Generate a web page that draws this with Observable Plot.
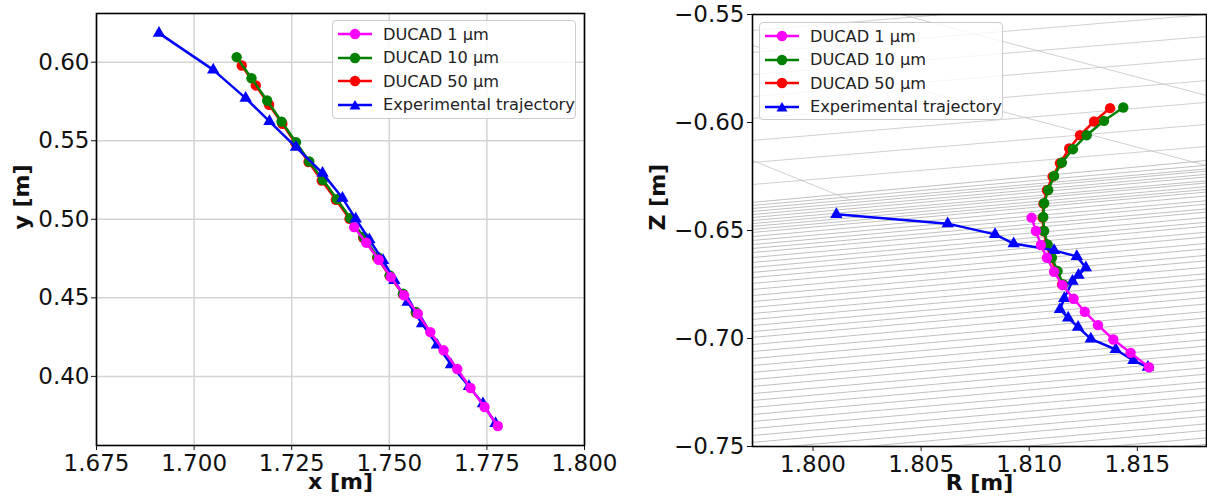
<!DOCTYPE html>
<html><head><meta charset="utf-8">
<script src="https://cdn.jsdelivr.net/npm/d3@7"></script>
<script src="https://cdn.jsdelivr.net/npm/@observablehq/plot@0.6"></script>
<style>
body{margin:0;background:#fff;font-family:"DejaVu Sans",sans-serif;}
#wrap{position:relative;width:1207px;height:500px;overflow:hidden;background:#fff}
.panel{position:absolute;top:0}
.legend{position:absolute;border:1px solid #cccccc;border-radius:4px;background:rgba(255,255,255,0.8);box-sizing:border-box;font-size:16.2px;color:#222}
.row{position:absolute;left:0;height:22px;display:flex;align-items:center;white-space:nowrap}
.row svg{margin-right:11px}
</style></head>
<body><div id="wrap"></div>
<script>
// ---------- legend / series meta ----------
const seriesNames = ["DUCAD 1 µm", "DUCAD 10 µm", "DUCAD 50 µm", "Experimental trajectory"];
const seriesColors = ["#ff00ff", "#008000", "#ff0000", "#0000ff"];
const seriesSymbols = ["circle", "circle", "circle", "triangle"];

// ---------- left panel (x, y) ----------
const xTicksLeft = [1.675, 1.700, 1.725, 1.750, 1.775, 1.800];
const yTicksLeft = [0.40, 0.45, 0.50, 0.55, 0.60];

const d1_x = [1.7410,1.7441,1.7473,1.7504,1.7538,1.7573,1.7605,1.7639,1.7674,1.7708,1.7744,1.7778];
const d1_y = [0.4950,0.4851,0.4742,0.4632,0.4516,0.4399,0.4282,0.4166,0.4047,0.3926,0.3805,0.3684];
const d10_x = [1.7109,1.7147,1.7187,1.7224,1.7261,1.7295,1.7330,1.7366,1.7400,1.7434,1.7470,1.7501,1.7535,1.7568];
const d10_y = [0.6032,0.5898,0.5756,0.5622,0.5491,0.5368,0.5251,0.5128,0.5007,0.4887,0.4760,0.4643,0.4526,0.4410];
const d50_x = [1.7122,1.7158,1.7192,1.7226,1.7259,1.7293,1.7327,1.7363,1.7398,1.7433,1.7469,1.7501,1.7535,1.7568];
const d50_y = [0.5979,0.5852,0.5729,0.5608,0.5487,0.5364,0.5247,0.5124,0.5003,0.4882,0.4755,0.4639,0.4522,0.4405];
const exp_x = [1.6910,1.7049,1.7132,1.7193,1.7261,1.7329,1.7380,1.7414,1.7449,1.7484,1.7513,1.7547,1.7584,1.7622,1.7658,1.7704,1.7740,1.7772];
const exp_y = [0.6185,0.5951,0.5771,0.5623,0.5459,0.5294,0.5135,0.5003,0.4870,0.4738,0.4611,0.4473,0.4335,0.4201,0.4075,0.3936,0.3826,0.3700];

// ---------- right panel (R, Z) ----------
const rTicks = [1.800, 1.805, 1.810, 1.815];
const zTicks = [-0.75, -0.70, -0.65, -0.60, -0.55];

const d1_R = [1.81011,1.81031,1.81054,1.81082,1.81115,1.81154,1.81205,1.81257,1.81318,1.81389,1.81469,1.81554];
const d1_Z = [-0.64405,-0.65023,-0.65672,-0.66260,-0.66909,-0.67527,-0.68161,-0.68764,-0.69382,-0.70046,-0.70665,-0.71329];
const d10_R = [1.81435,1.81346,1.81266,1.81202,1.81151,1.81115,1.81088,1.81069,1.81065,1.81069,1.81085,1.81105,1.81131,1.81158];
const d10_Z = [-0.59304,-0.59923,-0.60587,-0.61236,-0.61855,-0.62473,-0.63122,-0.63740,-0.64374,-0.65023,-0.65641,-0.66260,-0.66878,-0.67496];
const d50_R = [1.81374,1.81300,1.81235,1.81185,1.81142,1.81108,1.81082,1.81066,1.81062,1.81066,1.81080,1.81100,1.81125,1.81152];
const d50_Z = [-0.59335,-0.59954,-0.60587,-0.61206,-0.61886,-0.62504,-0.63138,-0.63756,-0.64405,-0.65023,-0.65641,-0.66260,-0.66878,-0.67496];
const exp_R = [1.80108,1.80623,1.80842,1.80928,1.81115,1.81220,1.81262,1.81228,1.81200,1.81162,1.81142,1.81180,1.81226,1.81285,1.81400,1.81482,1.81549];
const exp_Z = [-0.64250,-0.64683,-0.65178,-0.65610,-0.65919,-0.66198,-0.66723,-0.67063,-0.67342,-0.68145,-0.68655,-0.69042,-0.69474,-0.70015,-0.70510,-0.71020,-0.71329];

// wall mesh lines seen behind the right panel (Z at left and right ends)
const meshREnds = [1.7972, 1.8182];
const meshDenseZLeft = [-0.6370,-0.6384,-0.6398,-0.6412,-0.6426,-0.6440,-0.6454,-0.6468,-0.6481,-0.6495,-0.6509,-0.6528,-0.6546,-0.6565,-0.6583,-0.6602,-0.6625,-0.6648,-0.6671,-0.6694,-0.6718,-0.6745,-0.6773,-0.6801,-0.6829,-0.6856,-0.6884,-0.6912,-0.6940,-0.6968,-0.6995,-0.7028,-0.7060,-0.7093,-0.7125,-0.7157,-0.7190,-0.7222,-0.7255,-0.7287,-0.7319,-0.7352,-0.7384,-0.7417,-0.7449,-0.7481,-0.7514,-0.7546,-0.7579,-0.7611,-0.7644,-0.7676,-0.7708];
const meshDenseZRight = [-0.6176,-0.6198,-0.6215,-0.6225,-0.6240,-0.6252,-0.6270,-0.6280,-0.6297,-0.6310,-0.6322,-0.6340,-0.6362,-0.6378,-0.6400,-0.6415,-0.6440,-0.6462,-0.6480,-0.6508,-0.6530,-0.6560,-0.6585,-0.6615,-0.6640,-0.6670,-0.6700,-0.6725,-0.6755,-0.6780,-0.6810,-0.6840,-0.6875,-0.6905,-0.6940,-0.6970,-0.7005,-0.7035,-0.7070,-0.7100,-0.7135,-0.7165,-0.7200,-0.7230,-0.7265,-0.7295,-0.7330,-0.7360,-0.7395,-0.7425,-0.7460,-0.7490,-0.7520];
const meshSparseZLeft = [-0.5574,-0.5676,-0.5778,-0.5880,-0.5981,-0.6083,-0.6185,-0.6287];
const meshSparseZRight = [-0.5398,-0.5500,-0.5602,-0.5704,-0.5806,-0.5907,-0.6009,-0.6111];
const meshDiagR1 = [1.7972, 1.80408, 1.7972];
const meshDiagZ1 = [-0.5644, -0.5500, -0.6176];
const meshDiagR2 = [1.8182, 1.8182, 1.80177];
const meshDiagZ2 = [-0.6199, -0.5875, -0.6361];

// ---------- helpers ----------
const zip = (xs, ys) => xs.map((x, i) => ({x, y: ys[i]}));
function seriesMarks(xs, ys, k) {
  const data = zip(xs, ys);
  return [
    Plot.line(data, {x: "x", y: "y", stroke: seriesColors[k], strokeWidth: 2.5}),
    Plot.dot(data, {x: "x", y: "y", fill: seriesColors[k], symbol: seriesSymbols[k], r: seriesSymbols[k] === "triangle" ? 4.6 : 5.2})
  ];
}
const style = {fontFamily: "DejaVu Sans", fontSize: "23px", color: "#111", background: "transparent", overflow: "visible"};

// ---------- left plot ----------
const leftPlot = Plot.plot({
  width: 600, height: 500, marginLeft: 96, marginRight: 16, marginTop: 13, marginBottom: 55,
  style,
  x: {domain: [1.675, 1.800]},
  y: {domain: [0.356, 0.631]},
  marks: [
    Plot.gridX(xTicksLeft, {stroke: "#d4d4d4", strokeOpacity: 1, strokeWidth: 1.5}),
    Plot.gridY(yTicksLeft, {stroke: "#d4d4d4", strokeOpacity: 1, strokeWidth: 1.5}),
    Plot.axisX(xTicksLeft, {tickFormat: d3.format(".3f"), tickSize: 5, tickPadding: 4, label: null}),
    Plot.axisY(yTicksLeft, {tickFormat: d3.format(".2f"), tickSize: 5, tickPadding: 2, label: null}),
    ...seriesMarks(d50_x, d50_y, 2),
    ...seriesMarks(d10_x, d10_y, 1),
    ...seriesMarks(exp_x, exp_y, 3),
    ...seriesMarks(d1_x, d1_y, 0),
    Plot.frame({stroke: "#000", strokeWidth: 1.6}),
    Plot.text(["x [m]"], {frameAnchor: "bottom", dy: 43, fontWeight: "bold", fontSize: 22}),
    Plot.text(["y [m]"], {frameAnchor: "left", dx: -75, rotate: -90, fontWeight: "bold", fontSize: 22})
  ]
});

// ---------- right plot ----------
const denseMesh = meshDenseZLeft.map((z, i) => ({x1: meshREnds[0], y1: z, x2: meshREnds[1], y2: meshDenseZRight[i]}));
const sparseMesh = meshSparseZLeft.map((z, i) => ({x1: meshREnds[0], y1: z, x2: meshREnds[1], y2: meshSparseZRight[i]}));
const diagMesh = meshDiagR1.map((r, i) => ({x1: r, y1: meshDiagZ1[i], x2: meshDiagR2[i], y2: meshDiagZ2[i]}));

const rightPlot = Plot.plot({
  width: 567, height: 500, marginLeft: 112, marginRight: 1, marginTop: 14, marginBottom: 54,
  style,
  x: {domain: [1.7972, 1.8182]},
  y: {domain: [-0.75, -0.55]},
  marks: [
    Plot.link(denseMesh, {x1: "x1", y1: "y1", x2: "x2", y2: "y2", stroke: "#b0b0b0", strokeWidth: 0.8, clip: true}),
    Plot.link(sparseMesh, {x1: "x1", y1: "y1", x2: "x2", y2: "y2", stroke: "#c4c4c4", strokeWidth: 0.8, clip: true}),
    Plot.link(diagMesh, {x1: "x1", y1: "y1", x2: "x2", y2: "y2", stroke: "#c4c4c4", strokeWidth: 0.8, clip: true}),
    Plot.axisX(rTicks, {tickFormat: d3.format(".3f"), tickSize: 5, tickPadding: 4, label: null}),
    Plot.axisY(zTicks, {tickFormat: d3.format(".2f"), tickSize: 5, tickPadding: 3, label: null}),
    ...seriesMarks(d50_R, d50_Z, 2),
    ...seriesMarks(d10_R, d10_Z, 1),
    ...seriesMarks(exp_R, exp_Z, 3),
    ...seriesMarks(d1_R, d1_Z, 0),
    Plot.frame({stroke: "#000", strokeWidth: 1.6}),
    Plot.text(["R [m]"], {frameAnchor: "bottom", dy: 43, fontWeight: "bold", fontSize: 22}),
    Plot.text(["Z [m]"], {frameAnchor: "left", dx: -95, rotate: -90, fontWeight: "bold", fontSize: 22})
  ]
});

const wrap = document.getElementById("wrap");
leftPlot.classList.add("panel"); leftPlot.style.left = "0px";
rightPlot.classList.add("panel"); rightPlot.style.left = "640px";
wrap.appendChild(leftPlot);
wrap.appendChild(rightPlot);

// ---------- legends ----------
function addLegend(left, top, width, height) {
  const box = document.createElement("div");
  box.className = "legend";
  Object.assign(box.style, {left: left + "px", top: top + "px", width: width + "px", height: height + "px"});
  seriesNames.forEach((name, k) => {
    const row = document.createElement("div");
    row.className = "row";
    row.style.top = (2 + k * 23.5) + "px";
    row.style.left = "5px";
    const sym = seriesSymbols[k] === "triangle"
      ? `<path d="M17,2 L22.5,11.5 L11.5,11.5 Z" fill="${seriesColors[k]}"/>`
      : `<circle cx="17" cy="7" r="5.2" fill="${seriesColors[k]}"/>`;
    row.innerHTML = `<svg width="34" height="14" viewBox="0 0 34 14"><line x1="0" y1="7" x2="34" y2="7" stroke="${seriesColors[k]}" stroke-width="2.5"/>${sym}</svg><span>${name}</span>`;
    box.appendChild(row);
  });
  wrap.appendChild(box);
}
addLegend(332, 20, 244, 99);
addLegend(759, 22, 244, 98);
</script>
</body></html>
